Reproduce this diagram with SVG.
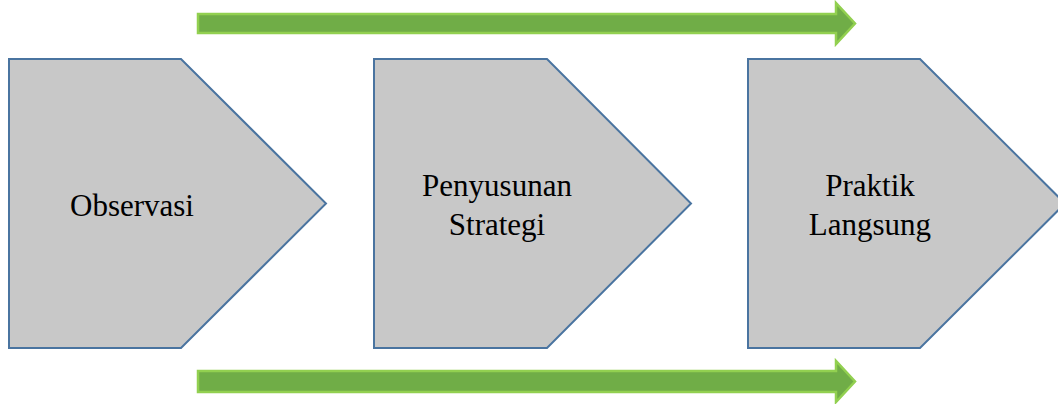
<svg xmlns="http://www.w3.org/2000/svg" width="1058" height="404" viewBox="0 0 1058 404">
<style>
.node{fill:#c8c8c8;stroke:#4a74a0;stroke-width:2}
.lbl{font-family:"Liberation Serif",serif;font-size:31px;fill:#000;text-anchor:middle}
.arr{fill:#70ad47;stroke:#92d050;stroke-width:2.5}
</style>
<rect width="1058" height="404" fill="#fff"/>
<g id="connectors">
<path class="arr" d="M198,14 L836,14 L836,3 L855,23.5 L836,44 L836,33 L198,33 Z"/>
<path class="arr" d="M198,371 L836,371 L836,361 L855,381.5 L836,402 L836,392 L198,392 Z"/>
</g>
<g id="observasi">
<path class="node" d="M9,59 L181,59 L326,203.5 L181,348 L9,348 Z"/>
<text class="lbl" x="132" y="216">Observasi</text>
</g>
<g id="penyusunan">
<path class="node" d="M374,59 L547,59 L691,203.5 L547,348 L374,348 Z"/>
<text class="lbl" x="497" y="196">Penyusunan</text>
<text class="lbl" x="497" y="235">Strategi</text>
</g>
<g id="praktik">
<path class="node" d="M748,59 L920,59 L1065,203.5 L920,348 L748,348 Z"/>
<text class="lbl" x="870" y="196">Praktik</text>
<text class="lbl" x="870" y="235">Langsung</text>
</g>
</svg>
